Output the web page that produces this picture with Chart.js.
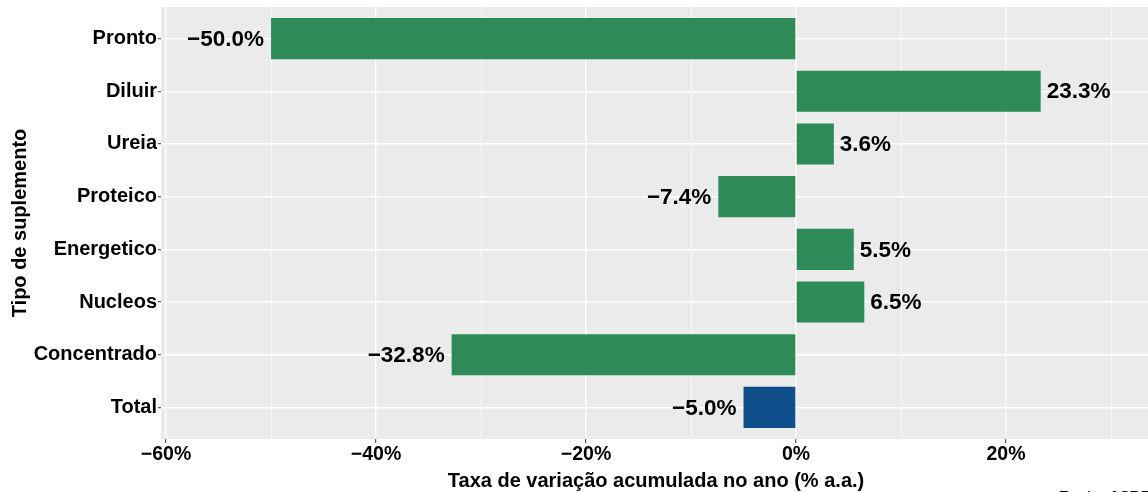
<!DOCTYPE html>
<html><head><meta charset="utf-8">
<script src="https://cdn.jsdelivr.net/npm/chart.js@4"></script>
<style>html,body{margin:0;padding:0;background:#fff}</style>
</head><body>
<canvas id="c" width="1148" height="492" style="display:block;width:1148px;height:492px"></canvas>
<script>
const categories = ['Pronto','Diluir','Ureia','Proteico','Energetico','Nucleos','Concentrado','Total'];
const values = [-50.0, 23.3, 3.6, -7.4, 5.5, 6.5, -32.8, -5.0];
const barColors = ['#2E8B57','#2E8B57','#2E8B57','#2E8B57','#2E8B57','#2E8B57','#2E8B57','#104E8B'];
const xTickValues = [-60, -40, -20, 0, 20];
const xTickLabels = ['\u221260%', '\u221240%', '\u221220%', '0%', '20%'];
const xMinorValues = [-50, -30, -10, 10, 30];
const xTitle = 'Taxa de variação acumulada no ano (% a.a.)';
const yTitle = 'Tipo de suplemento';
const sourceText = 'Fonte: ASBRAM';

const FONT = '"Liberation Sans", Arial, Helvetica, sans-serif';
const fmt = v => (v < 0 ? '\u2212' : '') + Math.abs(v).toFixed(1) + '%';

const panelPlugin = {
  id: 'panel',
  beforeDraw(chart) {
    const {ctx, chartArea: a} = chart;
    ctx.save();
    ctx.fillStyle = '#EBEBEB';
    ctx.fillRect(a.left, a.top, a.right - a.left, a.bottom - a.top);
    ctx.restore();
  },
  afterDatasetsDraw(chart) {
    const ctx = chart.ctx;
    const meta = chart.getDatasetMeta(0);
    ctx.save();
    ctx.font = 'bold 22.5px ' + FONT;
    ctx.fillStyle = '#000';
    ctx.textBaseline = 'middle';
    meta.data.forEach((el, i) => {
      const v = values[i];
      if (v < 0) { ctx.textAlign = 'right'; ctx.fillText(fmt(v), el.x - 7, el.y + 1); }
      else { ctx.textAlign = 'left'; ctx.fillText(fmt(v), el.x + 6, el.y + 1); }
    });
    ctx.restore();
  },
  afterDraw(chart) {
    const ctx = chart.ctx;
    ctx.save();
    ctx.fillStyle = '#000';
    ctx.font = 'bold 20px ' + FONT;
    ctx.textAlign = 'center';
    ctx.textBaseline = 'middle';
    ctx.fillText(xTitle, 656, 481);
    ctx.translate(20, 223);
    ctx.rotate(-Math.PI / 2);
    ctx.fillText(yTitle, 0, 0);
    ctx.restore();
    ctx.save();
    ctx.fillStyle = '#000';
    ctx.font = 'bold 15px ' + FONT;
    ctx.textAlign = 'left';
    ctx.textBaseline = 'top';
    ctx.fillText(sourceText, 1059, 489);
    ctx.restore();
  }
};

new Chart(document.getElementById('c'), {
  type: 'bar',
  data: {
    datasets: [{
      data: values.map((v, i) => ({x: v, y: i + 1})),
      backgroundColor: barColors,
      borderWidth: 0,
      barPercentage: 0.78,
      categoryPercentage: 1.0
    }]
  },
  options: {
    indexAxis: 'y',
    responsive: false,
    animation: false,
    devicePixelRatio: 1,
    layout: {padding: {top: 7, right: 0, left: 0, bottom: 0}},
    plugins: {legend: {display: false}, tooltip: {enabled: false}},
    scales: {
      x: {
        type: 'linear',
        min: -60.48, max: 33.52,
        afterBuildTicks(scale) {
          scale.ticks = xTickValues.concat(xMinorValues).sort((a, b) => a - b).map(v => ({value: v}));
        },
        afterFit(scale) { scale.height = 53; scale.paddingLeft = 0; scale.paddingRight = 0; },
        border: {display: false},
        grid: {
          color: '#FFFFFF',
          lineWidth: c => (c.tick && xTickValues.includes(c.tick.value)) ? 1.4 : 0.7,
          tickColor: c => (c.tick && xTickValues.includes(c.tick.value)) ? '#333333' : 'rgba(0,0,0,0)',
          tickLength: 4,
          tickWidth: 1
        },
        ticks: {
          autoSkip: false, maxRotation: 0, padding: 0,
          color: '#000',
          font: {family: FONT, size: 19.5, weight: 'bold'},
          callback: v => { const i = xTickValues.indexOf(v); return i >= 0 ? xTickLabels[i] : ''; }
        }
      },
      y: {
        type: 'linear',
        min: 0.4, max: 8.6,
        reverse: true,
        offset: false,
        afterBuildTicks(scale) {
          scale.ticks = categories.map((c, i) => ({value: i + 1}));
        },
        afterFit(scale) { scale.width = 161; scale.paddingTop = 0; scale.paddingBottom = 0; },
        border: {display: false},
        grid: {offset: false, color: '#FFFFFF', lineWidth: 1.4, tickColor: '#333333', tickLength: 3, tickWidth: 1},
        ticks: {
          autoSkip: false, padding: 1,
          color: '#000',
          font: {family: FONT, size: 20, weight: 'bold'},
          callback: v => categories[v - 1] || ''
        }
      }
    }
  },
  plugins: [panelPlugin]
});
</script>
</body></html>
